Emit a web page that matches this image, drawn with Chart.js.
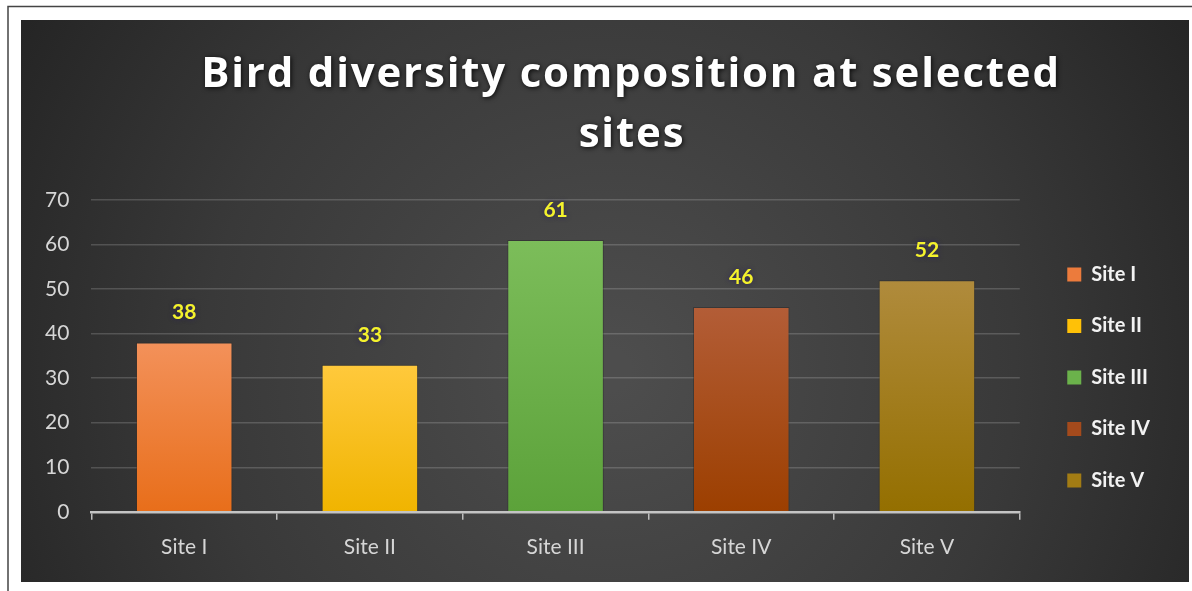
<!DOCTYPE html>
<html>
<head>
<meta charset="utf-8">
<script src="https://cdn.jsdelivr.net/npm/chart.js@4"></script>
<style>
  html, body { margin: 0; padding: 0; background: #fff; }
  #wrap { width: 1192px; height: 591px; position: relative; }
</style>
</head>
<body>
<div id="wrap"><canvas id="bird-chart"></canvas></div>
<script>
const sites = ['Site I', 'Site II', 'Site III', 'Site IV', 'Site V'];
const speciesCount = [38, 33, 61, 46, 52];
const yTicks = [0, 10, 20, 30, 40, 50, 60, 70];
const titleLines = ['Bird diversity composition at selected', 'sites'];

// each bar fades from a lighter top colour to a deeper base colour
const barTop = ['#F3915A', '#FFC93C', '#7CBD5A', '#B35D37', '#B08B3C'];
const barBottom = ['#E86E1A', '#F0B400', '#5CA23A', '#9C3F00', '#946F00'];
const legendColors = ['#EC7B3C', '#FFC107', '#6BB24B', '#A44A1C', '#A27C14'];

// dark slide-style panel behind everything, with the white page frame around it
const panelBackground = {
    id: 'panelBackground',
    beforeDraw(chart) {
        const ctx = chart.ctx;
        ctx.save();
        ctx.fillStyle = '#ffffff';
        ctx.fillRect(0, 0, chart.width, chart.height);
        ctx.strokeStyle = '#444';
        ctx.lineWidth = 1.5;
        ctx.beginPath();
        ctx.moveTo(8, chart.height);
        ctx.lineTo(8, 6.5);
        ctx.lineTo(chart.width, 6.5);
        ctx.stroke();
        const g = ctx.createRadialGradient(610, 370, 20, 610, 370, 720);
        g.addColorStop(0, '#4d4d4d');
        g.addColorStop(0.55, '#393939');
        g.addColorStop(1, '#222222');
        ctx.fillStyle = g;
        ctx.fillRect(21, 20, 1168, 562);
        ctx.restore();
    }
};

// two-line heading, drawn wide and bold like the slide title
const slideTitle = {
    id: 'slideTitle',
    beforeDatasetsDraw(chart) {
        const ctx = chart.ctx;
        ctx.save();
        ctx.font = 'bold 42px "Open Sans"';
        ctx.letterSpacing = '1.8px';
        ctx.fillStyle = '#ffffff';
        ctx.textAlign = 'center';
        ctx.textBaseline = 'alphabetic';
        ctx.shadowColor = 'rgba(0,0,0,0.85)';
        ctx.shadowBlur = 5;
        ctx.shadowOffsetX = 1;
        ctx.shadowOffsetY = 1;
        ctx.fillText(titleLines[0], 631, 87);
        ctx.fillText(titleLines[1], 632, 147);
        ctx.restore();
    }
};

// value written above each bar
const valueLabels = {
    id: 'valueLabels',
    afterDatasetsDraw(chart) {
        const ctx = chart.ctx;
        const meta = chart.getDatasetMeta(0);
        ctx.save();
        ctx.font = 'bold 21px Lato';
        ctx.textAlign = 'center';
        ctx.textBaseline = 'middle';
        ctx.fillStyle = '#F4F22C';
        ctx.shadowColor = 'rgba(40,30,90,0.9)';
        ctx.shadowBlur = 5;
        meta.data.forEach((bar, i) => {
            ctx.fillText(String(chart.data.datasets[0].data[i]), bar.x, bar.y - 30);
        });
        ctx.restore();
    }
};

// nudge the legend a little right and up from where the layout puts it
const legendNudge = {
    id: 'legendNudge',
    afterLayout(chart) {
        const lg = chart.legend;
        lg.left += 16; lg.right += 16;
        lg.top -= 10; lg.bottom -= 10;
    }
};

const canvas = document.querySelector('#bird-chart');

new Chart(canvas.getContext('2d'), {
    type: 'bar',
    data: {
        labels: sites,
        datasets: [{
            label: 'Number of species',
            data: speciesCount,
            backgroundColor: (c) => {
                const chart = c.chart;
                const i = c.dataIndex;
                if (!chart.chartArea || c.parsed === undefined) return barBottom[i];
                const y = chart.scales.y;
                const top = y.getPixelForValue(c.parsed.y);
                const base = y.getPixelForValue(0);
                const g = chart.ctx.createLinearGradient(0, top, 0, base);
                g.addColorStop(0, barTop[i]);
                g.addColorStop(1, barBottom[i]);
                return g;
            },
            borderColor: 'rgba(20,20,20,0.3)',
            borderWidth: 1,
            categoryPercentage: 1,
            barPercentage: 0.52
        }]
    },
    options: {
        responsive: true,
        maintainAspectRatio: false,
        animation: false,
        layout: { padding: { top: 200, left: 23, right: 48, bottom: 16 } },
        scales: {
            x: {
                grid: {
                    display: true,
                    drawOnChartArea: false,
                    drawTicks: true,
                    tickLength: 8,
                    color: '#bdbdbd',
                    lineWidth: 1.5,
                    offset: true
                },
                border: { display: true, color: '#c4c4c4', width: 2.5 },
                ticks: {
                    color: '#d6d6d6',
                    font: { family: 'Lato', size: 21 },
                    padding: 15
                }
            },
            y: {
                min: yTicks[0],
                max: yTicks[yTicks.length - 1],
                afterBuildTicks: (scale) => { scale.ticks = yTicks.map(v => ({ value: v })); },
                grid: { color: 'rgba(255,255,255,0.17)', lineWidth: 1.5, drawTicks: false },
                border: { display: false },
                ticks: {
                    color: '#d6d6d6',
                    font: { family: 'Lato', size: 21 },
                    padding: 22
                }
            }
        },
        plugins: {
            title: { display: false },
            tooltip: { enabled: false },
            legend: {
                display: true,
                position: 'right',
                onClick: null,
                labels: {
                    boxWidth: 14,
                    boxHeight: 14,
                    padding: 31.5,
                    color: '#f2f2f2',
                    font: { family: 'Lato', size: 20, weight: 'bold' },
                    generateLabels: () => sites.map((s, i) => ({
                        text: s,
                        fillStyle: legendColors[i],
                        strokeStyle: legendColors[i],
                        lineWidth: 0,
                        fontColor: '#f2f2f2',
                        hidden: false,
                        index: i
                    }))
                }
            }
        }
    },
    plugins: [panelBackground, slideTitle, valueLabels, legendNudge]
});
</script>
</body>
</html>
